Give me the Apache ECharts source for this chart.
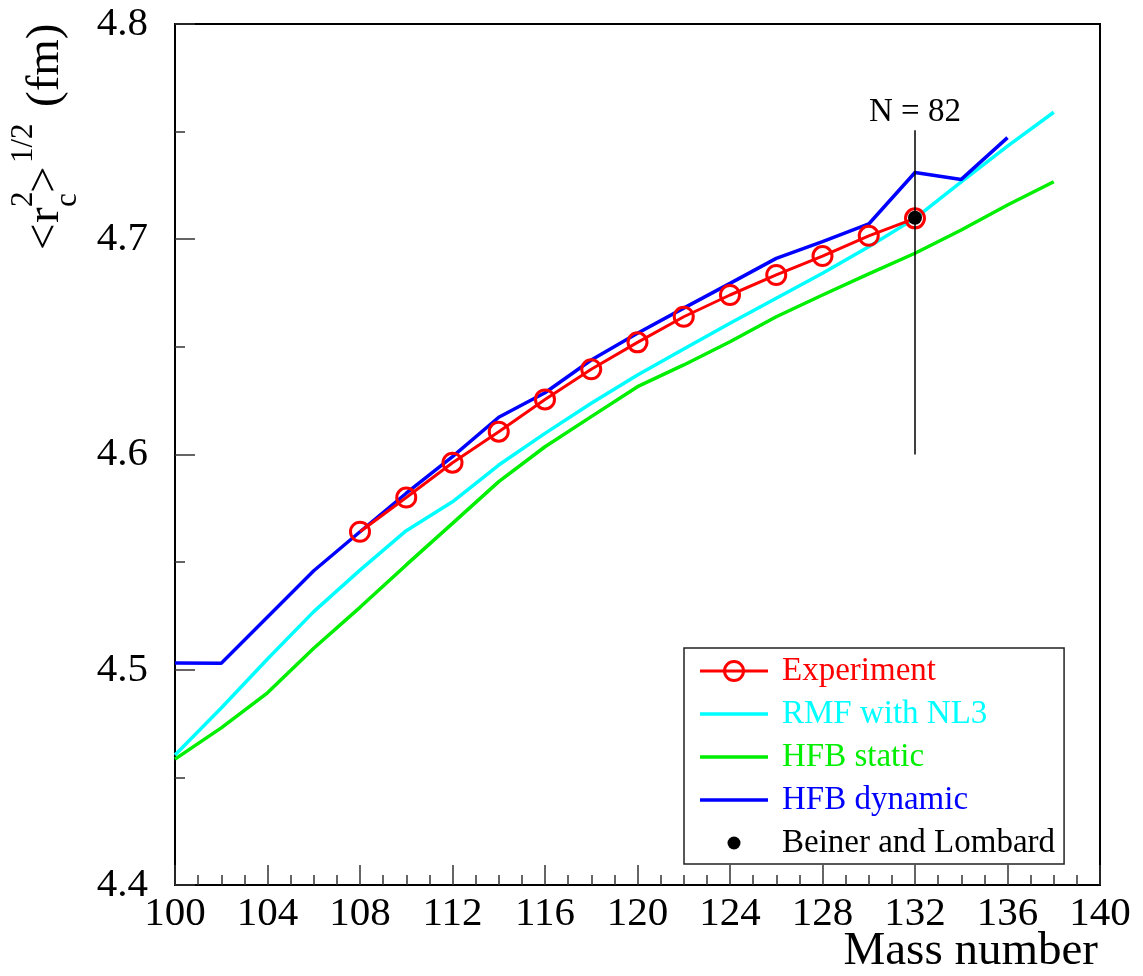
<!DOCTYPE html>
<html>
<head>
<meta charset="utf-8">
<script src="https://cdn.jsdelivr.net/npm/echarts@6/dist/echarts.min.js"></script>
<style>
  html, body { margin: 0; padding: 0; background: #fff; }
  #chart { width: 1143px; height: 976px; }
</style>
</head>
<body>
<div id="chart"></div>
<script>
// Mass numbers of the calculated isotopes
const massNumbers = [100, 102, 104, 106, 108, 110, 112, 114, 116, 118,
                     120, 122, 124, 126, 128, 130, 132, 134, 136, 138];
// RMF (NL3) charge radii, fm
const rmfNL3 = [4.4604, 4.4822, 4.5050, 4.5270, 4.5463, 4.5646, 4.5780, 4.5951, 4.6098, 4.6238,
                4.6369, 4.6490, 4.6610, 4.6726, 4.6842, 4.6965, 4.7097, 4.7267, 4.7433, 4.7590];
// HFB static charge radii, fm
const hfbStatic = [4.4585, 4.4730, 4.4893, 4.5100, 4.5290, 4.5487, 4.5680, 4.5874, 4.6036, 4.6176,
                   4.6315, 4.6416, 4.6524, 4.6640, 4.6741, 4.6839, 4.6935, 4.7043, 4.7159, 4.7267];
// HFB dynamic charge radii, fm (A = 100 ... 136)
const hfbDynamicMass = [100, 102, 104, 106, 108, 110, 112, 114, 116, 118,
                        120, 122, 124, 126, 128, 130, 132, 134, 136];
const hfbDynamic = [4.5031, 4.5030, 4.5245, 4.5460, 4.5641, 4.5820, 4.5990, 4.6173, 4.6287, 4.6439,
                    4.6563, 4.6680, 4.6795, 4.6911, 4.6989, 4.7071, 4.7310, 4.7278, 4.7472];
// Measured charge radii, fm
const expMass = [108, 110, 112, 114, 116, 118, 120, 122, 124, 126, 128, 130, 132];
const experiment = [4.5641, 4.5800, 4.5962, 4.6106, 4.6256, 4.6396, 4.6521, 4.6640, 4.6741,
                    4.6834, 4.6922, 4.7016, 4.7097];
// Beiner and Lombard value
const beinerMass = [132];
const beinerLombard = [4.7100];
// N = 82 shell closure marker
const n82Mass = 132;
const n82Range = [4.6000, 4.7506];

const xTicks = { min: 100, max: 140, interval: 4 };
const yTicks = { min: 4.4, max: 4.8, interval: 0.1 };

const zip = (xs, ys) => xs.map((x, i) => [x, ys[i]]);

const SERIF = '"Liberation Serif", "DejaVu Serif", serif';
const RED = '#ff0000', CYAN = '#00ffff', GREEN = '#00ee00', BLUE = '#0000ff';

// legend glyphs drawn in a 68 x 26 box
const LINE_ICON = 'path://M0,0M68,26M0,11.25L68,11.25L68,14.75L0,14.75Z';
const LINE_RING_ICON = 'path://M0,0M68,26M0,11.5L68,11.5L68,14.5L0,14.5Z' +
  'M45,13A11,11,0,1,1,23,13A11,11,0,1,1,45,13Z' +
  'M42,13A8,8,0,1,0,26,13A8,8,0,1,0,42,13Z';
const DOT_ICON = 'path://M0,0M68,26M40.5,13A6.5,6.5,0,1,1,27.5,13A6.5,6.5,0,1,1,40.5,13Z';

const chart = echarts.init(document.getElementById('chart'), null, { renderer: 'canvas' });

// y-axis title <r_c^2>^{1/2} (fm), assembled from pieces and rotated
function yTitle() {
  const big = 47, small = 31;
  const piece = (text, x, y, size) => ({
    type: 'text', x: x, y: y,
    style: { text: text, font: size + 'px ' + SERIF, fill: '#000', align: 'left', verticalAlign: 'middle' }
  });
  const mainY = -0.30 * big, smallY = -0.30 * small;
  return {
    type: 'group', x: 60, y: 250, rotation: Math.PI / 2,
    children: [
      piece('<', 0, mainY, big),
      piece('r', 27, mainY, big),
      piece('2', 43, -27 + smallY, small),
      piece('c', 43, 17 + smallY, small),
      piece('>', 57, mainY, big),
      piece('1/2', 87, -27 + smallY, small),
      piece('(fm)', 143, mainY, big)
    ]
  };
}

// x-axis title, right-aligned under the axis end
function xTitle() {
  return {
    type: 'text', x: 1098, y: 966 - 0.30 * 47,
    style: { text: 'Mass number', font: '47px ' + SERIF, fill: '#000', align: 'right', verticalAlign: 'middle' }
  };
}

const option = {
  backgroundColor: '#fff',
  animation: false,
  grid: {
    left: 175, right: 43, top: 24, bottom: 91,
    containLabel: false, outerBoundsMode: 'none',
    show: true, borderColor: '#000', borderWidth: 2, backgroundColor: 'transparent'
  },
  xAxis: {
    type: 'value', min: xTicks.min, max: xTicks.max, interval: xTicks.interval,
    axisLine: { show: true, onZero: false, lineStyle: { color: '#000', width: 2 } },
    axisTick: { show: true, inside: true, length: 20, lineStyle: { color: '#333', width: 1.5 } },
    minorTick: { show: true, splitNumber: 4, length: 10, lineStyle: { color: '#333', width: 1.5 } },
    axisLabel: { fontFamily: SERIF, fontSize: 41, color: '#000', margin: 9, hideOverlap: false },
    splitLine: { show: false }
  },
  yAxis: {
    type: 'value', min: yTicks.min, max: yTicks.max, interval: yTicks.interval,
    axisLine: { show: true, onZero: false, lineStyle: { color: '#000', width: 2 } },
    axisTick: { show: true, inside: true, length: 20, lineStyle: { color: '#333', width: 1.5 } },
    minorTick: { show: true, splitNumber: 2, length: 10, lineStyle: { color: '#333', width: 1.5 } },
    axisLabel: { fontFamily: SERIF, fontSize: 41, color: '#000', margin: 27, formatter: v => v.toFixed(1) },
    splitLine: { show: false }
  },
  legend: {
    orient: 'vertical', left: 684, top: 648,
    padding: [6, 9, 4, 16], itemGap: 9, itemWidth: 68, itemHeight: 26,
    backgroundColor: '#fff', borderColor: '#222', borderWidth: 1.5,
    textStyle: { fontFamily: SERIF, fontSize: 33, lineHeight: 34, padding: [0, 0, 0, 9] },
    data: [
      { name: 'Experiment', icon: LINE_RING_ICON, itemStyle: { color: RED, borderWidth: 0 }, textStyle: { color: RED } },
      { name: 'RMF with NL3', icon: LINE_ICON, itemStyle: { color: CYAN }, textStyle: { color: CYAN } },
      { name: 'HFB static', icon: LINE_ICON, itemStyle: { color: GREEN }, textStyle: { color: GREEN } },
      { name: 'HFB dynamic', icon: LINE_ICON, itemStyle: { color: BLUE }, textStyle: { color: BLUE } },
      { name: 'Beiner and Lombard', icon: DOT_ICON, itemStyle: { color: '#000' }, textStyle: { color: '#000' } }
    ]
  },
  graphic: [yTitle(), xTitle()],
  series: [
    {
      name: 'RMF with NL3', type: 'line', data: zip(massNumbers, rmfNL3),
      symbol: 'none', lineStyle: { color: CYAN, width: 3.5 }, itemStyle: { color: CYAN }, z: 2
    },
    {
      name: 'HFB static', type: 'line', data: zip(massNumbers, hfbStatic),
      symbol: 'none', lineStyle: { color: GREEN, width: 3.5 }, itemStyle: { color: GREEN }, z: 2
    },
    {
      name: 'HFB dynamic', type: 'line', data: zip(hfbDynamicMass, hfbDynamic),
      symbol: 'none', lineStyle: { color: BLUE, width: 3.5 }, itemStyle: { color: BLUE }, z: 3
    },
    {
      name: 'Experiment', type: 'line', data: zip(expMass, experiment),
      symbol: 'circle', symbolSize: 19, showSymbol: true,
      lineStyle: { color: RED, width: 3 },
      itemStyle: { color: 'rgba(0,0,0,0)', borderColor: RED, borderWidth: 3 }, z: 4
    },
    {
      name: 'N = 82', type: 'line', data: [],
      markLine: {
        silent: true, symbol: 'none',
        lineStyle: { color: '#000', width: 1.5, type: 'solid' },
        label: { show: true, position: 'end', formatter: 'N = 82', fontFamily: SERIF, fontSize: 33, color: '#000', distance: 2 },
        data: [[{ coord: [n82Mass, n82Range[0]] }, { coord: [n82Mass, n82Range[1]] }]]
      }, z: 1
    },
    {
      name: 'Beiner and Lombard', type: 'scatter', data: zip(beinerMass, beinerLombard),
      symbol: 'circle', symbolSize: 14, itemStyle: { color: '#000', opacity: 1 }, z: 5
    }
  ]
};

chart.setOption(option);
</script>
</body>
</html>
